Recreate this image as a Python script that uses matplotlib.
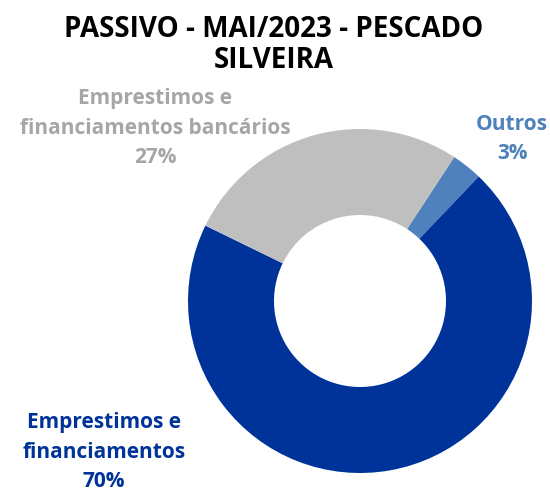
import matplotlib.pyplot as plt

# dados
categorias = ['Outros', 'Emprestimos e\nfinanciamentos', 'Emprestimos e\nfinanciamentos bancários']
valores = [2.9, 70.1, 27.0]
cores = ['#4F81BD', '#003399', '#BFBFBF']
cores_rotulo = ['#4F81BD', '#003399', '#A6A6A6']

plt.rcParams['font.family'] = ['Open Sans', 'DejaVu Sans']

fig = plt.figure(figsize=(5.5, 4.96), dpi=100)
ax = fig.add_axes([0, 0, 1, 1])

# rosca (centro e raio em pixels da imagem)
ax.pie(valores, colors=cores, startangle=56.8, counterclock=False,
       center=(360, 195), radius=172, frame=True,
       wedgeprops=dict(width=86, linewidth=0))
ax.set_xlim(0, 550)
ax.set_ylim(0, 496)
ax.set_aspect('equal')
ax.axis('off')

# rotulos
pos_rotulos = [(512, 357), (104, 44), (155, 368)]
total = sum(valores)
for cat, v, c, (x, y) in zip(categorias, valores, cores_rotulo, pos_rotulos):
    ax.text(x, y, f'{cat}\n{v / total * 100:.0f}%', color=c, fontsize=15,
            fontweight='bold', ha='center', va='center', linespacing=1.55)

ax.text(274, 451, 'PASSIVO - MAI/2023 - PESCADO\nSILVEIRA', fontsize=20,
        fontweight='bold', ha='center', va='center', linespacing=1.1)

fig.savefig('out.png', dpi=100)
